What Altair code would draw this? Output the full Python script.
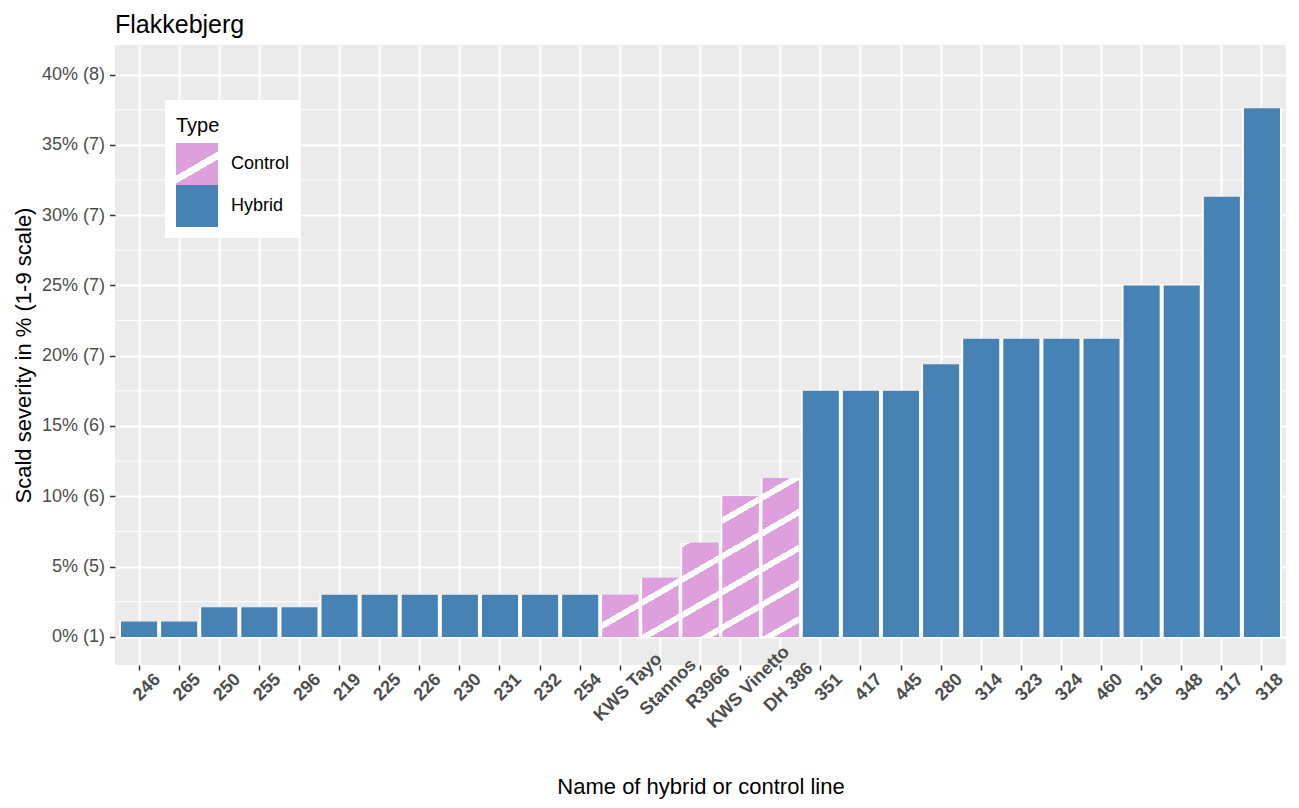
import altair as alt
import pandas as pd

# ---------------- data ----------------
names = ["246", "265", "250", "255", "296", "219", "225", "226", "230", "231",
         "232", "254", "KWS Tayo", "Stannos", "R3966", "KWS Vinetto", "DH 386",
         "351", "417", "445", "280", "314", "323", "324", "460", "316", "348",
         "317", "318"]
values = [1.1, 1.1, 2.1, 2.1, 2.1, 3.0, 3.0, 3.0, 3.0, 3.0,
          3.0, 3.0, 3.0, 4.2, 6.7, 10.0, 11.3,
          17.5, 17.5, 17.5, 19.4, 21.2, 21.2, 21.2, 21.2, 25.0, 25.0,
          31.3, 37.6]
types = ["Hybrid"] * 12 + ["Control"] * 5 + ["Hybrid"] * 12
y_tick_values = [0, 5, 10, 15, 20, 25, 30, 35, 40]
y_tick_labels = ["0% (1)", "5% (5)", "10% (6)", "15% (6)", "20% (7)",
                 "25% (7)", "30% (7)", "35% (7)", "40% (8)"]
minor_values = [2.5, 7.5, 12.5, 17.5, 22.5, 27.5, 32.5, 37.5]
type_domain = ["Control", "Hybrid"]

df = pd.DataFrame({"Name": names, "Value": values, "Type": types})

# ---------------- layout / style ----------------
W, H = 1171, 620
YMIN, YMAX = -2.0, 42.1
PINK = "#DDA0DD"
BLUE = "#4682B4"
WHITE = "#FFFFFF"
N = len(names)
STEP = W / (N + 0.2)
PPU = H / (YMAX - YMIN)
T = 0.577      # tan(30 deg) stripe slope
D = 35.7       # vertical stripe period (px)
S = 7.0        # vertical white stripe thickness (px)
PHI = 5.0


def stripe_stops(P0, Q):
    stops = [{"offset": 0, "color": PINK}]
    for m in range(-10, 80):
        c = PHI + m * D
        a = c - S / 2 - P0
        b = c + S / 2 - P0
        if b <= 0 or a >= Q:
            continue
        fa = max(a, 0) / Q
        fb = min(b, Q) / Q
        stops += [{"offset": round(fa, 5), "color": PINK},
                  {"offset": round(fa, 5), "color": WHITE},
                  {"offset": round(fb, 5), "color": WHITE},
                  {"offset": round(fb, 5), "color": PINK}]
    stops.append({"offset": 1, "color": PINK})
    return stops


def bar_gradient(i, v):
    w = 0.9 * STEP
    h = v * PPU
    x_left = (0.1 + i + 0.05) * STEP
    y_top = YMAX * PPU - h
    P0 = y_top + T * x_left
    Q = T * w + h
    k = Q / (T * T * w * w + h * h)
    return {"gradient": "linear", "x1": 0, "y1": 0,
            "x2": round(k * T * w, 5), "y2": round(k * h, 5),
            "stops": stripe_stops(P0, Q)}


# legend symbol gradient (one stripe through the square)
ls = 42.0
lq = T * ls + ls
lk = lq / (T * T * ls * ls + ls * ls)
lc = (T * 21 + 24.5) / lq
lh = 4.0 / lq
leg_stops = [(0, PINK), (lc - lh, PINK), (lc - lh, WHITE), (lc + lh, WHITE),
             (lc + lh, PINK), (1, PINK)]
leg_expr = ("{gradient: 'linear', x1: 0, y1: 0, x2: %.4f, y2: %.4f, stops: [%s]}"
            % (lk * T * ls, lk * ls,
               ", ".join("{offset: %.4f, color: '%s'}" % (o, c) for o, c in leg_stops)))

label_expr = "[" + ",".join("'%s'" % s for s in y_tick_labels) + "][round(datum.value/5)]"

x_enc = alt.X(
    "Name:N",
    scale=alt.Scale(domain=names, paddingInner=0, paddingOuter=0.1),
    axis=alt.Axis(
        title="Name of hybrid or control line", titleFontSize=22,
        titleFontWeight="normal", titleColor="black",
        titleY=128, titleBaseline="alphabetic",
        labelAngle=-45, labelAlign="center", labelBaseline="middle",
        labelFontSize=18, labelFontWeight="bold", labelColor="#4D4D4D",
        labelPadding=17, labelOffset=8, labelOverlap=False, labelLimit=0,
        labelBound=False,
        tickSize=5, tickColor="#333333", tickWidth=1.5, domain=False,
        grid=True, gridColor="white", gridWidth=2, bandPosition=0.5,
    ),
)
y_enc = alt.Y(
    "Value:Q",
    scale=alt.Scale(domain=[YMIN, YMAX], nice=False, zero=False),
    axis=alt.Axis(
        title="Scald severity in % (1-9 scale)", titleFontSize=22,
        titleFontWeight="normal", titleColor="black",
        titleX=-85, titleY=H / 2, titleBaseline="alphabetic", titleAlign="center",
        values=y_tick_values, labelExpr=label_expr,
        labelFontSize=18, labelColor="#4D4D4D", labelPadding=5,
        tickSize=5.5, tickColor="#333333", tickWidth=1.5, domain=False,
        grid=True, gridColor="white", gridWidth=2,
    ),
)

minor = alt.Chart(pd.DataFrame({"Value": minor_values})).mark_rule(
    color="white", strokeWidth=1).encode(y=y_enc)

backing = alt.Chart(df).mark_bar(
    color="white", width=alt.RelativeBandSize(1.0)).encode(x=x_enc, y=y_enc)

main = alt.Chart(df).mark_bar(width=alt.RelativeBandSize(0.9)).encode(
    x=x_enc, y=y_enc,
    color=alt.Color(
        "Type:N",
        scale=alt.Scale(domain=type_domain, range=[alt.ExprRef(expr=leg_expr), BLUE]),
        legend=alt.Legend(
            orient="none", legendX=50, legendY=55, fillColor="white",
            padding=11, title=["", "Type"], titleFontSize=20,
            titleFontWeight="normal", titleColor="black",
            titleLineHeight=5, titlePadding=7, labelFontSize=18,
            labelColor="black",
            symbolType="square", symbolSize=1764,
            symbolStrokeWidth=0, rowPadding=0, labelOffset=13, symbolOpacity=1,
        ),
    ),
)

hatch_layers = []
for i, (nm, v, tp) in enumerate(zip(names, values, types)):
    if tp != "Control":
        continue
    hatch_layers.append(
        alt.Chart(df).transform_filter(alt.datum.Name == nm).mark_bar(
            fill=bar_gradient(i, v), width=alt.RelativeBandSize(0.9)
        ).encode(x=x_enc, y=y_enc)
    )

chart = alt.layer(minor, backing, main, *hatch_layers).properties(
    width=W, height=H,
    title=alt.TitleParams("Flakkebjerg", anchor="start", frame="group",
                          fontSize=25, fontWeight="normal", color="black",
                          baseline="alphabetic", offset=15, dy=28),
    padding={"left": 107, "top": 37, "right": 5, "bottom": 135},
    autosize=alt.AutoSizeParams(type="none"),
).configure(font="Liberation Sans").configure_view(fill="#EBEBEB", stroke=None)

chart.save("out.html", embed_options={"renderer": "svg", "actions": False})
